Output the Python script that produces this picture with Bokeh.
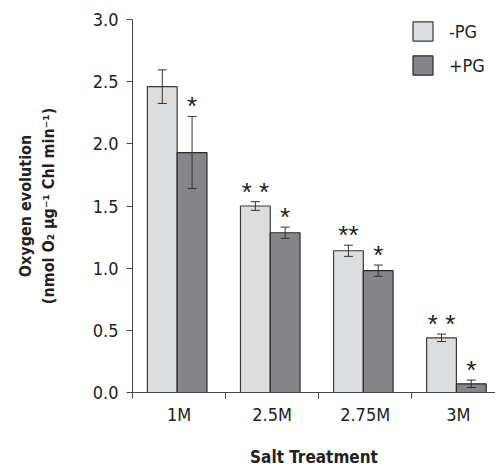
from bokeh.plotting import figure
from bokeh.models import (ColumnDataSource, Range1d, FixedTicker, Whisker, TeeHead,
                          Legend, LegendItem)
from bokeh.core.properties import value
from bokeh.embed import file_html
from bokeh.resources import INLINE

categories = ["1M", "2.5M", "2.75M", "3M"]
minus_pg = [2.46, 1.50, 1.14, 0.44]
minus_pg_err = [0.135, 0.035, 0.045, 0.03]
plus_pg = [1.93, 1.285, 0.98, 0.07]
plus_pg_err = [0.29, 0.045, 0.045, 0.03]
minus_sig = ["", "* *", "**", "* *"]
plus_sig = ["*", "*", "*", "*"]
y_ticks = [0.0, 0.5, 1.0, 1.5, 2.0, 2.5, 3.0]

FONT = "'Liberation Sans Narrow', 'DejaVu Sans Condensed', sans-serif"
STAR_FONT = "'Liberation Sans', sans-serif"
LIGHT = "#dcdddf"
DARK = "#86868a"
TXT = "#222222"

idx = list(range(len(categories)))
src_m = ColumnDataSource(dict(
    x=[i + 0.32 for i in idx], top=minus_pg,
    upper=[v + e for v, e in zip(minus_pg, minus_pg_err)],
    lower=[v - e for v, e in zip(minus_pg, minus_pg_err)],
    sig=minus_sig))
src_p = ColumnDataSource(dict(
    x=[i + 0.64 for i in idx], top=plus_pg,
    upper=[v + e for v, e in zip(plus_pg, plus_pg_err)],
    lower=[v - e for v, e in zip(plus_pg, plus_pg_err)],
    sig=plus_sig))

p = figure(width=495, height=469, output_backend="svg", toolbar_location=None,
           x_range=Range1d(0, 3.9), y_range=Range1d(0, 3.0),
           min_border_left=132, min_border_top=19, min_border_right=0,
           min_border_bottom=77)
p.outline_line_color = None
p.grid.visible = False
p.background_fill_color = "white"
p.border_fill_color = "white"

r_m = p.vbar(x="x", top="top", width=0.32, bottom=0, source=src_m,
             fill_color=LIGHT, line_color="#3a3a3a", line_width=1.2)
r_p = p.vbar(x="x", top="top", width=0.32, bottom=0, source=src_p,
             fill_color=DARK, line_color="#2a2a2a", line_width=1.2)

for src in (src_m, src_p):
    w = Whisker(base="x", upper="upper", lower="lower", source=src,
                line_color="#333333", line_width=1, level="annotation",
                upper_head=TeeHead(size=9, line_color="#333333", line_width=1),
                lower_head=TeeHead(size=9, line_color="#333333", line_width=1))
    p.add_layout(w)
    p.text(x="x", y="upper", text="sig", source=src, y_offset=-10,
           text_font=value(STAR_FONT), text_font_size="26px", text_color=TXT,
           text_align="center", text_baseline="middle")

# axes
xa = p.xaxis[0]
xa.ticker = FixedTicker(ticks=[i + 0.5 for i in idx], minor_ticks=[float(i) for i in idx])
xa.major_label_overrides = {i + 0.5: c for i, c in zip(idx, categories)}
xa.major_tick_out = 0
xa.major_tick_in = 0
xa.minor_tick_out = 6
xa.minor_tick_in = 0
xa.minor_tick_line_color = "#444444"
xa.axis_line_color = "#444444"
xa.major_label_standoff = 5
xa.major_label_text_font = FONT
xa.major_label_text_font_size = "18px"
xa.major_label_text_color = TXT
xa.axis_label = "Salt Treatment"
xa.axis_label_text_font = FONT
xa.axis_label_text_font_size = "17px"
xa.axis_label_text_font_style = "bold"
xa.axis_label_text_color = TXT
xa.axis_label_standoff = 19

ya = p.yaxis[0]
ya.ticker = FixedTicker(ticks=y_ticks, minor_ticks=[])
ya.major_label_overrides = {t: f"{t:.1f}" for t in y_ticks}
ya.major_tick_out = 6
ya.major_tick_in = 0
ya.minor_tick_out = 0
ya.minor_tick_in = 0
ya.major_tick_line_color = "#444444"
ya.axis_line_color = "#444444"
ya.major_label_standoff = 8
ya.major_label_text_font = FONT
ya.major_label_text_font_size = "18px"
ya.major_label_text_color = TXT
ya.axis_label = "Oxygen evolution\n(nmol O\u2082 \u00b5g\u207b\u00b9 Chl min\u207b\u00b9)"
ya.axis_label_text_font = FONT
ya.axis_label_text_font_size = "16px"
ya.axis_label_text_font_style = "bold"
ya.axis_label_text_color = TXT
ya.axis_label_standoff = 32

legend = Legend(items=[LegendItem(label="-PG", renderers=[r_m]),
                       LegendItem(label="+PG", renderers=[r_p])],
                location=(278, 315), orientation="vertical",
                glyph_width=25, glyph_height=24, spacing=10, padding=0, margin=0,
                label_standoff=14, label_text_font=FONT, label_text_font_size="18px",
                label_text_color=TXT, border_line_color=None,
                background_fill_alpha=0)
p.add_layout(legend)

open("out.html", "w").write(file_html(p, INLINE))
